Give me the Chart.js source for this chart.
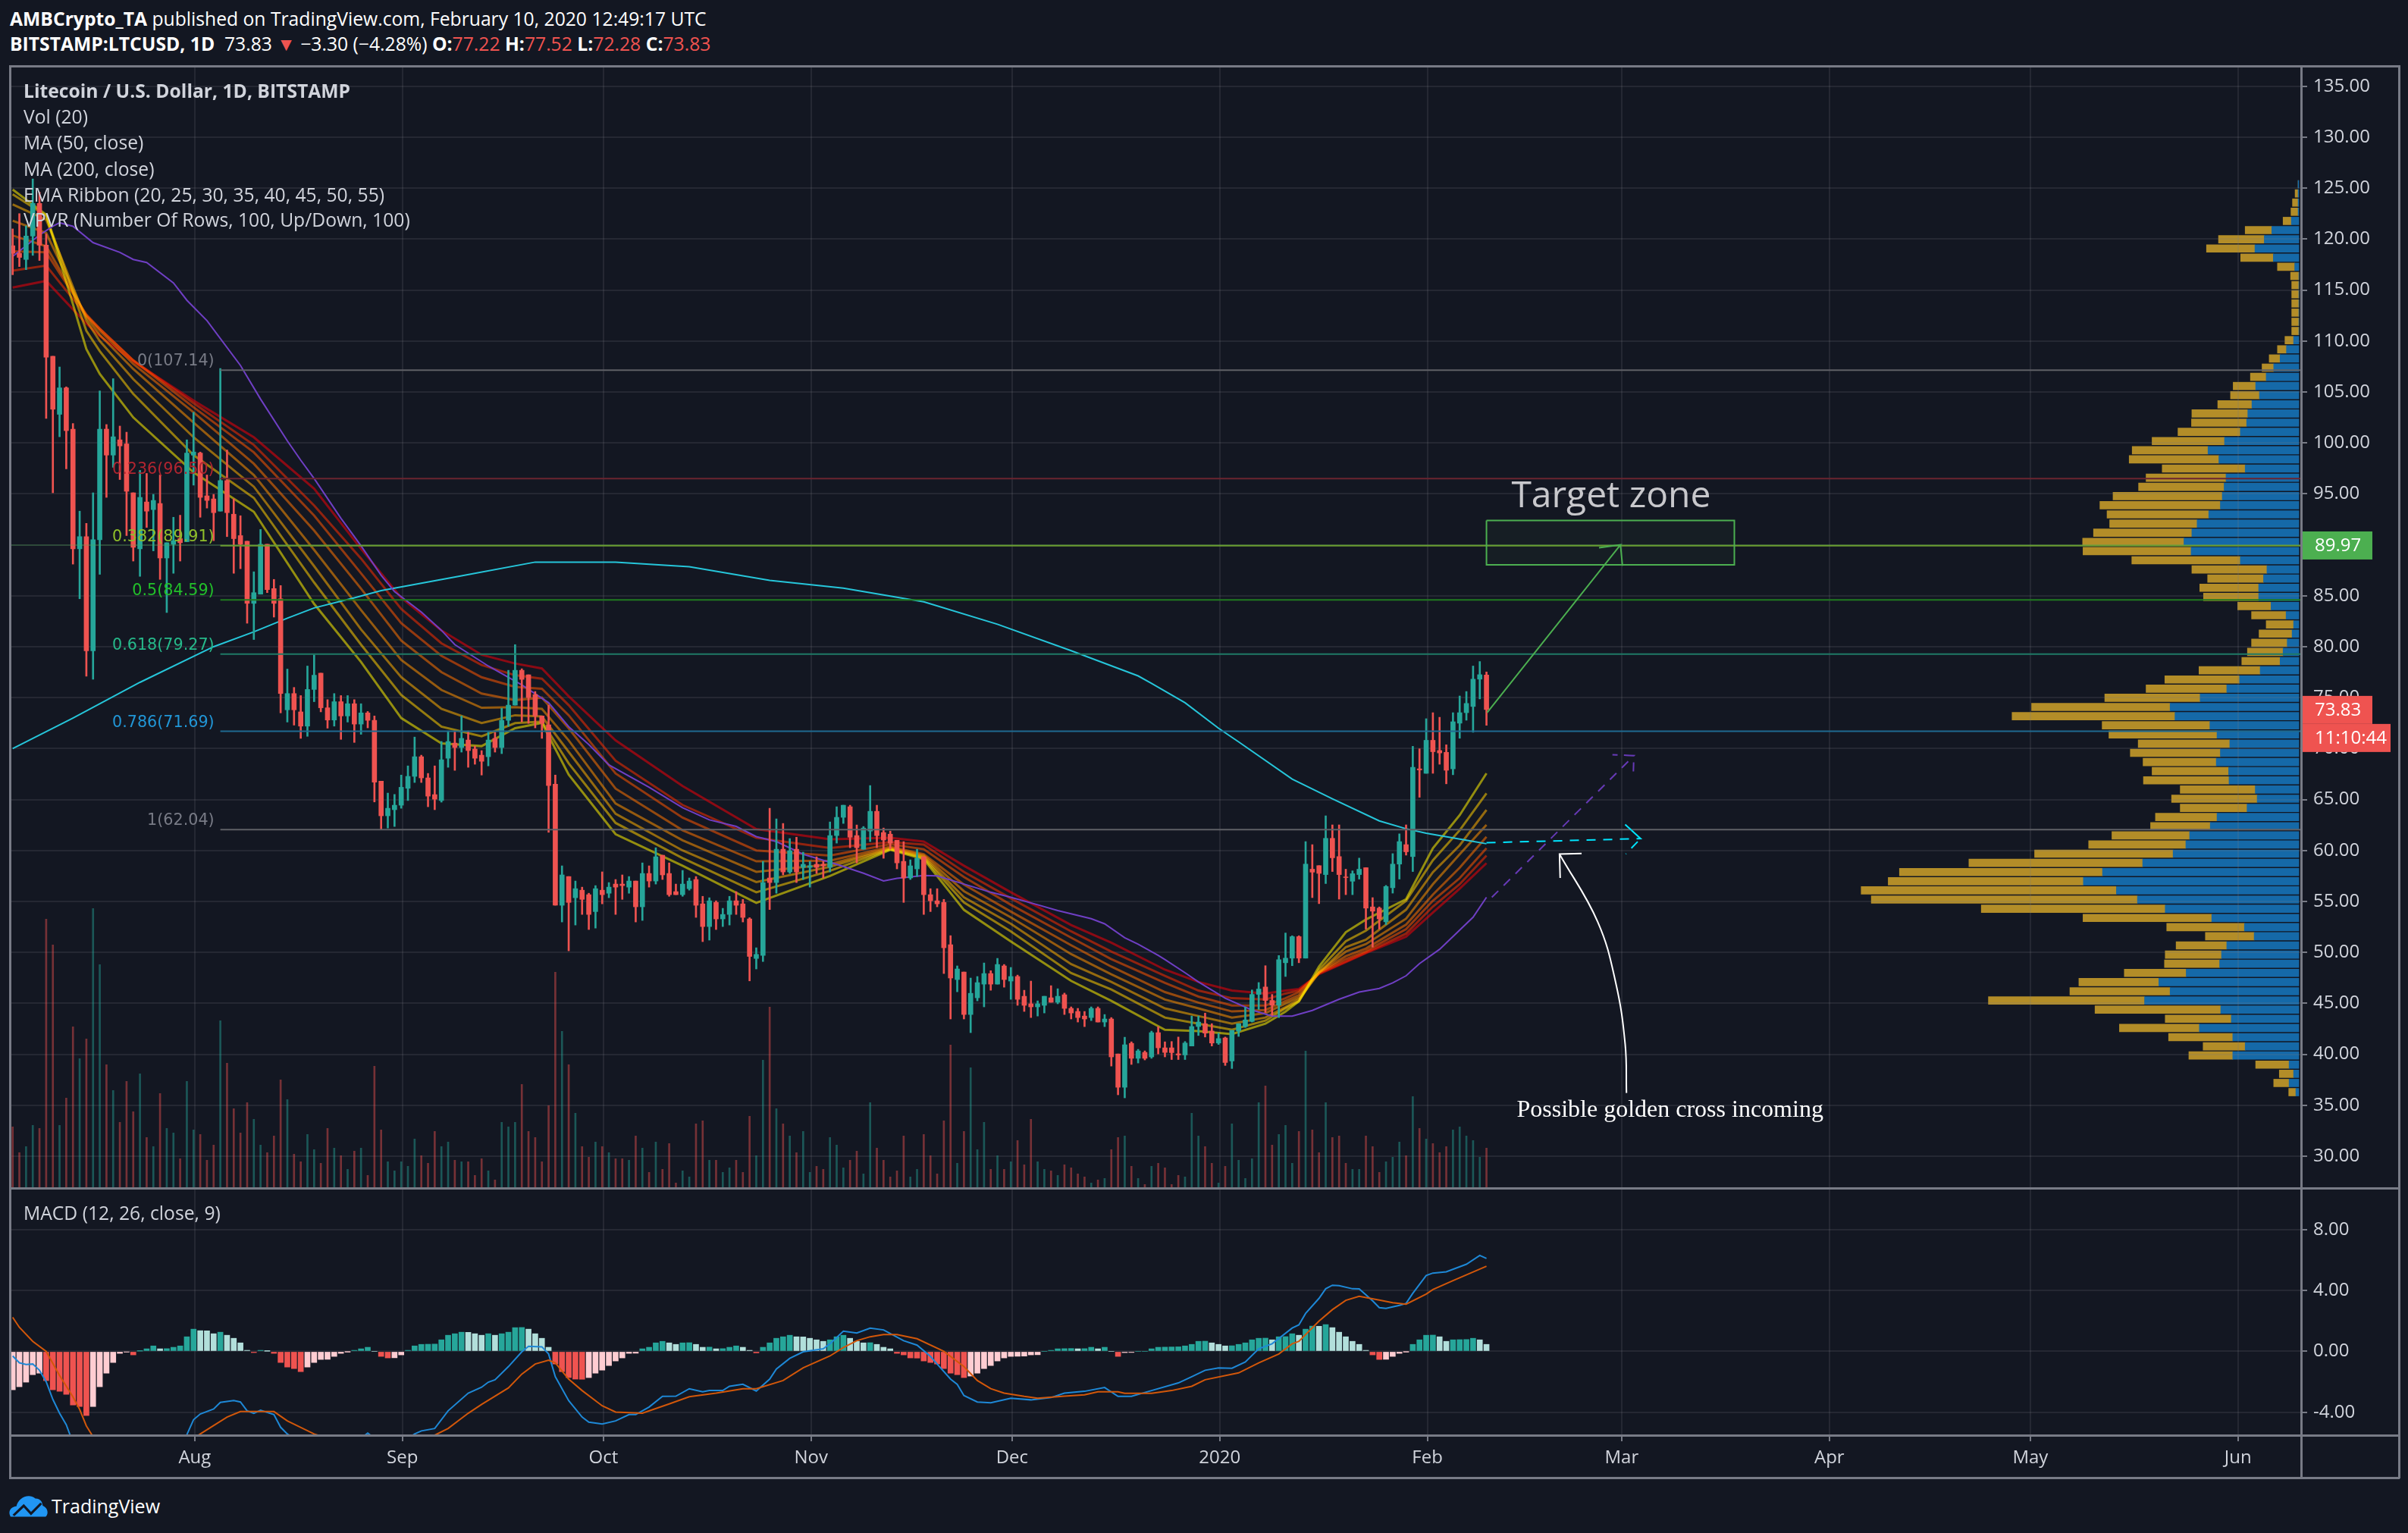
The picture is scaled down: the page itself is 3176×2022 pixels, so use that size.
<!DOCTYPE html>
<html lang="en">
<head>
<meta charset="UTF-8">
<title>LTCUSD chart</title>
<script src="https://cdn.jsdelivr.net/npm/chart.js"></script>
<style>
    html, body { margin: 0; padding: 0; background: #131722; overflow: hidden; }
    body { width: 3176px; height: 2022px; position: relative; font-family: "Open Sans", sans-serif; color: #d1d4dc; }
    canvas { position: absolute; left: 0; }
    .txt { position: absolute; white-space: nowrap; line-height: 34px; font-size: 24.7px; }
    .head { color: #fff; }
    b { font-weight: 700; }
    .red { color: #ef5350; }
    .line { position: absolute; background: #787b86; }
</style>
</head>
<body>
<canvas id="vpvrChart" width="3176" height="1567" style="top:0;z-index:1"></canvas>
<canvas id="priceChart" width="3176" height="1567" style="top:0;z-index:2"></canvas>
<canvas id="macdChart" width="3176" height="455" style="top:1567px;z-index:2"></canvas>

<div class="line" style="left:12px;top:86px;width:3153px;height:3px;z-index:3"></div>
<div class="line" style="left:12px;top:86px;width:3px;height:1864px;z-index:3"></div>
<div class="line" style="left:3034px;top:86px;width:3px;height:1864px;z-index:3"></div>
<div class="line" style="left:3163px;top:86px;width:3px;height:1864px;z-index:3"></div>
<div class="line" style="left:12px;top:1566px;width:3153px;height:3px;z-index:3"></div>
<div class="line" style="left:12px;top:1892px;width:3153px;height:3px;z-index:3"></div>
<div class="line" style="left:12px;top:1948px;width:3153px;height:3px;z-index:3"></div>

<div class="txt head" style="left:13px;top:8px"><b>AMBCrypto_TA</b> published on TradingView.com, February 10, 2020 12:49:17 UTC</div>
<div class="txt head" style="left:13px;top:41px"><b>BITSTAMP:LTCUSD, 1D</b>&nbsp; 73.83 <span class="red">▼</span> −3.30 (−4.28%) <b>O:</b><span class="red">77.22</span> <b>H:</b><span class="red">77.52</span> <b>L:</b><span class="red">72.28</span> <b>C:</b><span class="red">73.83</span></div>

<div class="txt" style="left:31px;top:103px;z-index:4"><b>Litecoin / U.S. Dollar, 1D, BITSTAMP</b></div>
<div class="txt" style="left:31px;top:137px;z-index:4">Vol (20)</div>
<div class="txt" style="left:31px;top:171px;z-index:4">MA (50, close)</div>
<div class="txt" style="left:31px;top:206px;z-index:4">MA (200, close)</div>
<div class="txt" style="left:31px;top:240px;z-index:4">EMA Ribbon (20, 25, 30, 35, 40, 45, 50, 55)</div>
<div class="txt" style="left:31px;top:273px;z-index:4">VPVR (Number Of Rows, 100, Up/Down, 100)</div>
<div class="txt" style="left:31px;top:1583px;z-index:4">MACD (12, 26, close, 9)</div>

<svg style="position:absolute;left:12px;top:1970px" width="52" height="32" viewBox="0 0 54 40" preserveAspectRatio="none">
    <path d="M2 38 C-2 30 2 22 10 21 C12 8 26 -2 36 8 C44 8 46 16 46 20 C54 24 54 34 50 38 Z" fill="#2196f3"/>
    <path d="M6 36 L20 20 L30 33 L44 16" fill="none" stroke="#131722" stroke-width="3.5"/>
</svg>
<div class="txt head" style="left:68px;top:1969px;font-size:25px">TradingView</div>

<script>
// daily candles, index 0 = 5 Jul 2019, index 220 = 10 Feb 2020
const opens = [
    119.35,118.6,118,120.3,123.5,119.4,108.5,102.8,105.4,101.35,
    89.6,90.8,79.6,90.5,101.35,98.8,100.3,99.9,95.1,89.6,
    94.2,93.45,94.05,88.7,90.05,90.6,90.3,98.8,99,94.8,
    94.5,93.3,96.3,93,90.9,90.35,84.25,85.15,90.05,85.7,
    84.7,73.8,75.4,73.6,72.2,75.8,77.4,74,72.8,74.6,
    73.2,74.4,72.4,73.5,72.77,66.8,63.4,64,64.44,66.1,
    67.27,69.2,67.12,65.48,64.9,69.05,70.54,70.1,70.84,69.95,
    69.35,69.2,71,70.1,72.77,74.26,77.68,77.24,75.3,73.2,
    72.33,66.5,54.62,57.44,55.36,56.1,55.66,54,56.1,55.8,
    56.7,56.7,56.4,57,54.47,57.74,57,59.53,57.74,55.96,
    55.66,56.25,57.15,54.76,52.53,54.9,53.28,53.72,55.06,54.76,
    53.28,49.4,49.7,57.3,56.85,60.12,57.89,60.12,58.34,58.34,
    58.64,58.64,58.34,61.46,63.25,64.29,61.46,60.12,61.9,63.84,
    61.76,61.6,61,58.93,57.3,58.19,59.38,55.66,55.06,54.9,
    50.75,47.33,48.07,43.9,45.54,46.88,47.92,46.88,48.67,47.18,
    47.63,45.69,44.95,44.65,44.8,45.54,45.1,45.84,44.5,44.2,
    43.75,43.6,44.5,43.16,43.46,40.03,36.76,41.07,39.6,40.18,
    39.74,42.12,40.63,40.63,40.04,39.93,40.81,42.72,43,42.28,
    41.1,41.6,39.34,42.28,42.72,43.22,45.87,46.6,45.28,44.81,
    48.98,49.43,51.54,49.43,58.16,58.51,57.63,61.19,59.4,57.4,
    56.98,57.63,58.31,54.46,54.34,53,56.34,58.66,60.57,59.4,
    68.01,67.57,70.81,69.81,69.63,68.01,72.49,73.52,74.13,76.81,
    77.22];
const highs = [
    121,122.5,121.3,125.9,124.6,120.5,108.5,107.45,105.5,101.9,
    93.3,92.1,95.1,105.1,101.8,106.3,101.65,101.05,95.1,97.3,
    97,94.95,96.85,90.2,92.7,92.9,100.3,103,99.1,96.85,
    94.95,107.3,99.3,94.5,92.85,90.35,87.35,91.5,90.05,86.6,
    86,77.8,76,75.2,78.1,79.2,77.4,74.8,75.4,75.2,
    75.2,74.8,74.4,73.64,73.2,66.8,65.63,65.5,67.4,68.3,
    71.13,69.35,67.56,68.3,70.7,71.73,71.73,73.2,71.73,70.24,
    69.8,71.6,71.6,73.96,77.68,80.2,77.83,77.24,75.6,73.2,
    74.26,67.4,58.49,57.44,57,56.4,55.8,56.55,57.9,56.85,
    57.15,57.6,57.44,57,58.78,58.49,60.27,59.53,58.78,56.7,
    58.04,57.3,57.44,55.5,55.36,55.06,54.32,55.5,55.96,55.2,
    53.4,50.45,58.93,64.14,63.1,62.65,61.17,61.3,59.83,58.93,
    59.38,58.93,62.8,64.29,64.44,64.44,62.5,62.35,66.37,64.44,
    62.2,61.9,61,60.87,59.08,60.12,59.38,56.25,56.25,55.2,
    51.64,48.67,48.07,47.48,47.63,48.96,48.2,49.41,48.81,48.52,
    47.77,46.28,47.18,45.24,45.69,46.73,46.43,46,44.65,44.5,
    44.2,44.65,44.65,43.9,43.6,40.03,41.67,41.22,40.48,40.33,
    42.27,42.71,41.22,41.25,41.69,41.25,43.75,43.75,44.04,43,
    42.07,41.69,42.34,43,44.63,46.31,47.04,48.69,45.87,49.69,
    51.9,51.63,51.63,60.87,60.57,58.51,63.4,62.51,62.51,58.16,
    58,59.25,58.31,55.37,54.46,56.57,59.69,61.63,62.51,70.22,
    69.98,72.93,73.52,73.07,70.37,73.52,75.16,75.6,78.1,78.54,
    77.52];
const lows = [
    116.5,117.3,117,118.4,117.9,102.4,95.1,100.6,97.45,88.1,
    84.7,77.1,76.8,87.1,94.65,97.6,96.4,90.9,88.4,86.9,
    91.7,89.4,86.6,83.35,87.2,88.4,90.3,95.85,92.7,93.6,
    90.4,93.3,90.8,87.2,87.65,82.3,80.7,85.15,85.3,82.9,
    73.5,72.6,72.3,71,71.2,74.6,73.6,72,72.2,70.9,
    72.6,70.6,71.4,72.03,64.76,62.08,62.2,62.35,64.14,64.9,
    66.67,66.67,64.29,64,64.74,68.16,67.86,69.65,68.16,68.46,
    67.4,68.3,69.65,69.5,72.18,74.26,72.62,72.47,72.03,71,
    61.78,54.62,52.98,50.15,52.68,53.72,52.24,52.38,54.76,55.36,
    53.72,55.2,55.8,52.98,53.13,56.4,56.7,57.15,55.5,55.66,
    55.5,56.1,53.43,51.05,51.2,52.24,52.53,52.68,53.72,52.98,
    47.2,48.37,49.1,54.2,55.8,57.6,57.74,56.85,57.15,56.4,
    57.74,57.3,57.89,60.72,62.65,60.27,58.78,60.12,60.87,60.27,
    59.23,60.12,58.19,54.9,57.15,57.44,53.72,54,54.47,47.92,
    43.46,46.13,43.46,42.12,45.24,44.65,46.28,46.88,46.58,45.39,
    44.8,44.2,43.6,43.75,44.05,45.1,44.95,43.9,43.46,43.16,
    42.71,43.3,43.16,42.71,38.84,36.02,35.72,39,39.14,39.44,
    39.6,40.03,39.74,39.48,39.48,39.48,40.81,41.84,41.69,40.81,
    40.96,38.9,38.6,41.75,42.63,43.16,44.4,44.1,43.81,43.6,
    47.63,48.69,48.98,49.43,55.37,54.78,56.75,57.93,55.22,55.66,
    55.66,57.19,52.28,50.51,52.28,52.72,55.81,57.19,59.54,57.93,
    65.22,67.57,67.57,68.46,66.54,67.43,71.01,72.78,71.6,74.87,
    72.28];
const closes = [
    118.6,118.2,120.3,123.5,119.4,108.4,103.3,105.4,101.2,89.6,
    90.8,79.6,90.5,101.35,98.8,100.6,99.7,95.25,89.75,94.65,
    93.3,94.35,88.7,90.2,90.4,90.2,99,99.1,94.65,94.35,
    93.15,96.3,93.15,90.6,90.05,84.25,85.3,90.05,85.6,84.25,
    75.4,75.4,73.8,72.2,75.8,77.2,74,72.8,74.6,73.2,
    74.4,72.4,73.5,72.77,66.7,63.4,64.14,64.44,66.2,67.27,
    69.2,67.12,65.33,65.03,68.9,70.69,70.1,71,69.8,69.05,
    68.75,70.84,70.1,72.77,74.26,77.68,76.79,75,73.2,72.47,
    66.37,54.62,57.6,54.9,56.25,55.2,53.72,56.25,55.66,56.4,
    56.4,56.55,57,54.47,57.74,57,59.38,57.6,55.66,55.66,
    56.7,57,54.62,52.53,55.06,53.28,53.72,55.06,54.62,53.43,
    49.6,49.8,56.85,56.85,60.12,57.89,59.97,57.89,58.64,58.49,
    58.34,58.49,61.46,63.25,64.44,61.3,60.27,62.2,63.84,61.46,
    61.02,60.72,58.78,57.3,58.49,59.23,55.66,55.06,54.76,50.45,
    47.48,48.37,43.9,45.98,47.03,47.92,46.88,48.81,47.33,47.63,
    45.39,44.8,44.65,44.95,45.69,45.1,45.69,44.5,44.05,43.6,
    43.46,44.5,43.16,43.46,39.74,36.76,40.93,39.6,40.33,39.6,
    42.12,40.63,40.18,40.16,39.93,41.1,42.72,43.16,42.07,41.1,
    41.54,39.19,42.34,43,43.37,45.87,46.4,45.28,44.81,49.28,
    49.43,51.54,49.43,58.66,57.87,57.75,61.19,59.28,57.63,57.34,
    57.72,58.16,54.34,54.04,53.28,56.46,58.66,60.87,59.87,68.16,
    67.9,70.81,69.69,69.57,67.87,72.63,73.52,74.43,76.81,77.25,
    73.83];
const volumes = [
    242,140,164,248,236,1064,962,248,356,638,
    512,590,1106,884,488,386,260,422,302,452,
    200,164,374,236,218,116,422,230,212,110,
    170,662,494,314,218,338,272,170,140,206,
    428,350,134,104,212,152,98,236,158,128,
    74,146,158,50,482,230,104,68,104,86,
    194,128,98,224,164,182,110,104,104,50,
    116,68,32,260,242,260,410,224,200,104,
    326,854,620,488,296,164,122,182,164,140,
    116,116,110,206,158,62,182,74,176,20,
    68,44,254,266,110,110,62,80,110,62,
    284,128,506,716,314,254,206,140,224,62,
    86,74,200,170,80,110,146,56,338,158,
    110,44,68,206,44,74,212,128,56,266,
    566,98,224,476,152,260,74,128,74,104,
    188,92,272,104,74,68,50,92,80,56,
    44,20,32,38,152,200,206,86,38,14,
    86,98,80,14,50,44,296,206,164,98,
    20,86,254,110,38,116,338,404,170,212,
    248,98,224,542,230,140,338,200,206,98,
    74,74,206,164,62,104,122,182,128,362,
    236,194,176,140,164,230,242,206,188,122,158];

// ribbon values read at these candle indexes
const ribbonDays = [0,5,11,13,18,27,36,45,52,58,64,70,75,79,83,90,100,111,122,131,136,142,149,158,164,172,177,182,187,190,192,195,199,202,208,212,216,220];
const ema20 = [124.86,122.4,109.2,106.76,102.5,97.1,93.24,84.2,78.5,73,70.5,70.24,72,72.52,67.44,61.6,58.5,54.86,57.5,60.07,59.13,54.17,51.07,47.2,45.24,42.4,42.28,41.98,43,44.19,45.2,48.6,51.98,53.22,55.22,60.22,63.46,67.57];
const ema25 = [124.4,122.3,111,109,104.8,98.8,94.6,86.3,80.2,75.25,72.15,71.2,72.5,72.65,68.55,62.7,59.25,55.9,58,60.12,59.26,54.9,52.06,47.97,46.36,43.6,43,42.4,43.3,44.5,45.2,48.3,51.1,52.13,55.06,59.04,61.98,65.6];
const ema30 = [123.4,121.9,112,110,106.26,100.55,95.7,87.9,81.7,77,73.9,72.5,73.27,73.15,69.67,63.6,60,56.9,58.4,60.17,59.38,55.4,52.8,48.84,47.1,44.5,43.75,43,43.6,44.63,45.37,48,50.51,51.25,54.19,57.87,60.5,63.98];
const ema35 = [121.8,120.6,112.3,110.6,107.25,102,96.84,89.5,83.6,78.7,75.75,74,74.06,73.9,70.8,64.6,61,57.9,58.64,60.25,59.5,56,53.43,49.83,47.85,45.37,44.5,43.6,44.04,44.98,45.57,48.05,50.07,50.81,53.31,56.69,59.63,62.51];
const ema40 = [120.35,119.3,112.5,111,107.75,103,97.95,91.4,85.7,80.6,77.5,75.4,74.76,75,72,66.07,61.98,58.93,59,60.37,59.63,56.65,54,50.7,48.6,46.1,45.07,44.2,44.34,45.22,45.8,48,49.63,50.37,52.72,55.66,58.31,61.34];
const ema45 = [118.8,118.7,112.6,111.2,108.1,103.5,99.07,92.87,87.2,82.3,79.1,77,76.05,75.87,73.27,67.56,63.22,60,59.5,60.62,60.12,57.4,54.67,51.44,49.33,47,45.66,44.78,44.78,45.5,46.1,48,49.34,50.13,52.28,55.07,57.28,60.22];
const ema50 = [116.9,117.4,112.5,111.2,108.1,103.9,99.8,93.86,88.65,83.7,80.33,78.2,77.2,76.86,74.26,68.8,64.46,61.24,60.25,60.82,60.57,57.9,55.3,52.06,50.08,47.7,46.25,45.5,45.37,45.96,46.25,47.93,49.1,49.98,51.84,54.49,56.69,59.49];
const ema55 = [115.25,115.9,111.7,110.5,108,104.15,100.55,95.5,89.6,84.8,81.6,79.2,78.35,77.86,75.13,70.8,66.32,62.1,61.1,61.24,60.87,58.5,55.9,52.68,50.95,48.3,47.1,46.25,45.96,46.25,46.4,47.87,49.04,49.93,51.54,53.9,56.25,58.75];

const ma50Days = [0,4,6,7,9,12,16,18,20,24,26,29,34,37,41,43,45,49,52,55,57,61,64,66,71,76,80,83,86,89,95,100,104,108,111,114,118,123,127,130,132,136,138,141,146,149,153,156,161,163,166,168,171,172,175,177,181,185,188,191,194,198,201,204,206,208,210,213,218,220];
const ma50 = [118.3,120.4,121.26,121.6,121.26,119.65,118.7,118,117.7,115.7,114,112,107.6,104.3,100.2,98.3,96.5,92.6,89.9,87,85.4,83.4,81.6,80.2,78.1,76.24,74.5,72.15,70.4,68.4,66.2,64.2,63,62.36,61.36,60.87,59.63,58.64,57.77,57,57.27,57.54,57.5,56.9,55.9,55.4,54.67,54.1,53.3,52.8,51.44,50.8,49.7,49.3,48,47.1,45.5,44.34,43.75,43.75,44.3,45.4,46.1,46.46,47,47.7,48.9,50.3,53.45,55.4];
const ma200Days = [0,9,19,30,36,41,45,51,55,67,78,90,101,113,124,136,147,158,168,170,175,180,183,191,197,204,208,211,217,220];
const ma200 = [70,73,76.5,80,81.46,82.8,83.8,84.8,85.5,86.95,88.3,88.3,87.85,86.5,85.74,84.4,82.2,79.6,77.13,76.4,74.5,72,70.66,67,65.07,62.9,62.13,61.69,61,60.66];

// MACD pane
const macdHist = [
    -2.52,-2.32,-2.02,-1.53,-1.43,-1.92,-2.52,-2.62,-2.82,-3.52,
    -3.62,-4.21,-3.62,-2.32,-1.43,-.73,-.13,-.03,-.23,.02,
    .17,.36,.17,.18,.27,.36,.96,1.46,1.36,1.35,
    1.16,1.26,1.06,.86,.56,.07,-.08,.07,.01,-.13,
    -.73,-1.03,-1.13,-1.33,-1.03,-.73,-.53,-.52,-.33,-.13,
    -.01,.07,.17,.27,0,-.33,-.43,-.42,-.23,.07,
    .36,.46,.47,.48,.76,1.06,1.16,1.26,1.25,1.16,
    1.06,1.16,1.06,1.16,1.26,1.56,1.57,1.46,1.16,.86,
    .27,-.83,-1.33,-1.72,-1.82,-1.83,-1.72,-1.43,-1.23,-.93,
    -.63,-.43,-.13,-.12,.17,.27,.56,.66,.56,.46,
    .56,.57,.46,.27,.28,.17,.18,.27,.36,.27,
    .07,-.10,.27,.56,.86,.96,1.06,.96,.95,.86,
    .76,.66,.76,.96,1.06,.86,.66,.56,.57,.46,
    .27,.17,-.13,-.23,-.43,-.44,-.63,-.73,-.83,-1.13,
    -1.43,-1.53,-1.72,-1.62,-1.43,-1.13,-.93,-.63,-.43,-.33,
    -.32,-.31,-.23,-.22,0,.07,.17,.18,.19,.17,
    .18,.27,.17,.27,0,-.33,-.08,-.07,0,0,
    .17,.27,.28,.29,.30,.36,.46,.66,.67,.56,
    .46,.36,.37,.46,.56,.76,.86,.87,.76,.96,
    .97,1.16,1.06,1.46,1.66,1.65,1.76,1.56,1.26,.96,
    .66,.46,.07,-.23,-.53,-.52,-.33,-.13,-.01,.46,
    .76,1.06,1.07,.96,.66,.76,.77,.78,.86,.76,
    .46];
const macdLine = [[0,-.3],[1,-.75],[2,-.86],[3,-.83],[4,-1.24],[5,-1.99],[6,-3.15],[7,-4.06],[8,-4.81],[9,-6],[13,-7],[20,-7],[25,-6.2],[26,-5.47],[27,-4.48],[28,-4.11],[30,-3.78],[31,-3.35],[33,-3.23],[34,-3.32],[35,-3.9],[36,-4.06],[37,-3.86],[39,-4.15],[40,-4.98],[41,-5.42],[43,-6],[50,-6.5],[52,-5.7],[53,-5.36],[54,-5.7],[58,-6],[60,-5.42],[61,-5.22],[63,-5.06],[65,-3.9],[68,-2.74],[70,-2.35],[71,-2.02],[72,-1.86],[74,-1],[76,-.03],[77,.33],[79,.3],[80,-.17],[81,-1.66],[83,-3.23],[85,-4.31],[86,-4.64],[88,-4.76],[90,-4.56],[92,-4.15],[93,-4.15],[95,-3.65],[97,-2.95],[99,-2.94],[101,-2.45],[103,-2.65],[104,-2.57],[106,-2.57],[107,-2.29],[109,-2.16],[111,-2.6],[113,-1.82],[114,-1.16],[116,-.46],[118,-.03],[121,.17],[122,.5],[124,1.33],[126,1.21],[128,1.53],[130,1.41],[133,.7],[135,.41],[137,-.33],[138,-.83],[140,-1.82],[141,-2.16],[142,-2.9],[144,-3.32],[146,-3.37],[149,-3.07],[152,-3.18],[155,-3.03],[157,-2.74],[160,-2.62],[163,-2.37],[165,-2.95],[167,-2.95],[170,-2.57],[174,-2.07],[176,-1.66],[178,-1.24],[180,-1.08],[182,-1.11],[184,-.7],[186,.17],[188,.5],[191,1.53],[192,1.74],[193,2.49],[195,3.48],[196,4.11],[197,4.34],[198,4.31],[200,4.11],[201,4.1],[203,3.32],[204,2.87],[205,2.82],[207,3.02],[208,3.15],[209,3.81],[211,4.98],[212,5.14],[214,5.22],[217,5.72],[219,6.3],[220,6.1]];
const signalLine = [[0,2.24],[1,1.58],[3,.66],[5,0],[7,-1.58],[9,-2.99],[10,-3.81],[11,-4.89],[12,-5.6],[15,-6.5],[25,-6.3],[28,-5.42],[32,-4.31],[34,-3.95],[39,-3.95],[41,-4.56],[45,-5.42],[50,-6.1],[60,-6],[63,-5.5],[65,-5.06],[68,-4.06],[70,-3.48],[74,-2.4],[76,-1.49],[78,-.83],[80,-.58],[81,-.75],[83,-1.82],[85,-2.57],[88,-3.57],[90,-3.98],[94,-4.06],[98,-3.45],[101,-2.98],[105,-2.74],[109,-2.45],[111,-2.45],[115,-1.91],[118,-1.08],[122,-.3],[124,.25],[126,.7],[128,.96],[130,1.11],[132,1.11],[135,.83],[139,0],[142,-1],[144,-1.91],[146,-2.45],[148,-2.74],[151,-2.95],[153,-3.07],[157,-2.94],[160,-2.85],[162,-2.65],[165,-2.65],[166,-2.75],[170,-2.75],[173,-2.57],[176,-2.29],[178,-1.86],[183,-1.41],[186,-.75],[189,-.17],[191,.5],[192,.66],[195,1.99],[197,2.74],[199,3.35],[201,3.62],[204,3.37],[206,3.2],[208,3.1],[211,3.76],[212,4.06],[215,4.64],[220,5.59]];

// volume profile, top row first
const vpTopPrice = 125.38;
const vpRowStep = 0.9;
const vpUp = [2,2,2,2,20,72,92,117,68,11,0,0,0,0,0,0,0,14,33,50,67,87,115,105,125,136,139,156,198,242,213,143,194,199,204,209,240,271,285,306,287,156,85,94,107,107,74,34,
    14,18,31,42,50,103,158,192,263,343,330,237,218,184,209,220,187,186,116,111,138,218,236,291,301,335,416,523,574,486,430,356,232,145,119,192,206,211,300,373,343,411,208,180,265,176,143,176,26,14,26,8];
const vpDown = [0,8,15,19,22,71,122,129,87,46,22,19,19,19,19,19,19,23,24,29,31,42,60,77,91,149,147,166,193,202,239,221,213,228,291,321,271,233,262,270,288,289,200,149,157,147,89,92,
    73,88,95,95,102,163,199,215,254,369,434,287,288,244,240,195,204,228,200,228,178,164,159,207,259,369,463,541,520,680,709,490,343,207,130,135,150,147,165,213,267,416,335,176,213,171,112,117,89,38,41,19];

// axes
const priceTicks = [135,130,125,120,115,110,105,100,95,90,85,80,75,70,65,60,55,50,45,40,35,30];
const macdTicks = [8,4,0,-4];
const monthDays = [27.18,58.18,88.18,119.18,149.18,180.18,211.18,240.18,271.18,301.18,332.18];
const monthLabels = ['Aug','Sep','Oct','Nov','Dec','2020','Feb','Mar','Apr','May','Jun'];

// fibonacci retracement
const fibStartDay = 31;
const fibLabels = ['0(107.14)','0.236(96.50)','0.382(89.91)','0.5(84.59)','0.618(79.27)','0.786(71.69)','1(62.04)'];
const fibPrices = [107.14,96.5,89.91,84.59,79.27,71.69,62.04];

// hand drawn things on the chart, [candle index, price]
const targetBox = [[220,92.38],[257,92.38],[257,88.03],[220,88.03],[220,92.38]];
const targetArrow = [[220.1,73.53],[240,90],[236.8,89.7],[240,90],[240.3,87.94]];
const ma200Arrow = [[220,60.76],[243,61.16],[240.7,62.55],[243,61.16],[240.8,59.65]];
const ma50Arrow = [[220.8,55.4],[242,69.3],[238.8,69.4],[242,69.3],[241.9,67.2]];
const crossArrow = [[240.9,36.2],[240.7,41],[239.3,47],[236.6,53],[230.9,59.65]];
const crossArrowHead = [[234.2,59.7],[230.9,59.65],[231,57.3]];

const GREEN = '#26a69a', RED = '#ef5350';
const GRID = 'rgba(120,123,134,0.18)', AXIS = '#787b86', LABEL = '#d1d4dc';
const AXIS_FONT = { family: '"Open Sans", sans-serif', size: 24 };
const X_MIN = -0.42, X_MAX = 341.6;
const PRICE_MIN = 26.87, PRICE_MAX = 136.99;

function zipLine(xs, ys) { return xs.map((x, i) => ({ x: x, y: ys[i] })); }
function pairLine(points) { return points.map(p => ({ x: p[0], y: p[1] })); }
function fibStart(p) { return [{ x: fibStartDay, y: p }, { x: X_MAX, y: p }]; }
function lineSet(data, color, width, order, extra) {
    return Object.assign({
        type: 'line', data: data, borderColor: color, borderWidth: width,
        pointRadius: 0, tension: 0, fill: false, order: order, yAxisID: 'y'
    }, extra || {});
}
function xScale(showLabels) {
    return {
        type: 'linear', min: X_MIN, max: X_MAX, offset: false,
        afterBuildTicks: s => { s.ticks = monthDays.map(v => ({ value: v })); },
        afterFit: s => { if (showLabels) s.height = 129; s.paddingLeft = 0; s.paddingRight = 0; },
        border: { display: false },
        grid: { color: GRID, lineWidth: 2, offset: false, drawTicks: showLabels, tickLength: 8, tickColor: AXIS, tickWidth: 2 },
        ticks: {
            display: showLabels, autoSkip: false, maxRotation: 0, color: LABEL, font: AXIS_FONT, padding: 8,
            callback: v => monthLabels[monthDays.indexOf(v)]
        }
    };
}
function yScale(ticks, min, max) {
    return {
        position: 'right', min: min, max: max,
        afterBuildTicks: s => { s.ticks = ticks.map(v => ({ value: v })); },
        // labels near the pane edge must not shrink the pane
        afterFit: s => { s.width = 141; s.paddingTop = 0; s.paddingBottom = 0; },
        border: { display: false },
        grid: { color: GRID, lineWidth: 2, tickLength: 8, tickColor: AXIS, tickWidth: 2 },
        ticks: { color: LABEL, font: AXIS_FONT, padding: 8, callback: v => v.toFixed(2) }
    };
}

const candleColors = closes.map((c, i) => c >= opens[i] ? GREEN : RED);

// text and price tags that sit on the price pane
const priceLabels = {
    id: 'priceLabels',
    afterDraw(chart) {
        const { ctx, scales: { x, y } } = chart;
        ctx.save();
        ctx.textBaseline = 'bottom';
        ctx.textAlign = 'right';
        ctx.font = '20.7px "DejaVu Sans"';
        const fibColors = ['#787b86', '#b02530', '#8fbf2a', '#22c02a', '#26b98a', '#2196d6', '#787b86'];
        fibLabels.forEach((t, i) => {
            ctx.fillStyle = fibColors[i];
            ctx.fillText(t, x.getPixelForValue(fibStartDay) - 8, y.getPixelForValue(fibPrices[i]) - 1);
        });

        ctx.textAlign = 'center';
        ctx.textBaseline = 'alphabetic';
        ctx.fillStyle = '#c8c8cc';
        ctx.font = '48px "Open Sans"';
        ctx.fillText('Target zone', x.getPixelForValue(238.6), y.getPixelForValue(93.65));
        ctx.fillStyle = '#ffffff';
        ctx.font = '32px "Liberation Serif"';
        ctx.fillText('Possible golden cross incoming', x.getPixelForValue(247.4), y.getPixelForValue(33.9));

        // price tags over the axis
        const tag = (text, price, color, w, shift) => {
            const py = y.getPixelForValue(price) + shift;
            ctx.fillStyle = color;
            ctx.fillRect(3036, py - 18, w, 37);
            ctx.fillStyle = '#ffffff';
            ctx.font = '24px "Open Sans"';
            ctx.textAlign = 'left';
            ctx.textBaseline = 'middle';
            ctx.fillText(text, 3053, py + 1);
        };
        tag('89.97', 89.97, '#4caf50', 93, 0);
        tag('73.83', 73.83, RED, 93, 0);
        tag('11:10:44', 73.83, RED, 117, 37);
        ctx.restore();
    }
};

Chart.defaults.animation = false;
Chart.defaults.plugins.legend.display = false;
Chart.defaults.plugins.tooltip.enabled = false;

// volume profile under the price pane, grows left from the axis
const vpRows = vpUp.map((_, i) => vpTopPrice - i * vpRowStep);
new Chart(document.getElementById('vpvrChart'), {
    type: 'bar',
    data: {
        datasets: [
            { data: vpUp.map((u, i) => ({ y: vpRows[i], x: [0, u] })), backgroundColor: '#1569a8', barThickness: 10, grouped: false },
            { data: vpDown.map((d, i) => ({ y: vpRows[i], x: [vpUp[i], vpUp[i] + d] })), backgroundColor: '#b38d28', barThickness: 10, grouped: false }
        ]
    },
    options: {
        indexAxis: 'y', responsive: false, devicePixelRatio: 1,
        layout: { autoPadding: false, padding: { left: 13, right: 141, top: 87, bottom: 0 } },
        scales: {
            x: { type: 'linear', reverse: true, min: -6, max: 6098, display: false },
            y: { type: 'linear', min: PRICE_MIN, max: PRICE_MAX, display: false, offset: false }
        }
    }
});

// see-through yellow to red, so the lines go bright where they bunch up
const ribbonColors = ['rgba(255,240,0,0.55)', 'rgba(255,205,0,0.55)', 'rgba(255,175,0,0.55)', 'rgba(255,145,0,0.55)', 'rgba(255,115,0,0.55)', 'rgba(255,85,0,0.55)', 'rgba(250,45,0,0.55)', 'rgba(240,0,10,0.55)'];
const ribbons = [ema20, ema25, ema30, ema35, ema40, ema45, ema50, ema55];

new Chart(document.getElementById('priceChart'), {
    type: 'bar',
    data: {
        datasets: [
            {
                data: volumes.map((v, i) => ({ x: i, y: v })), yAxisID: 'vol', order: 60,
                backgroundColor: candleColors.map(c => c === GREEN ? 'rgba(38,166,154,0.45)' : 'rgba(239,83,80,0.45)'),
                barThickness: 2, grouped: false
            },
            ...ribbons.map((r, i) => lineSet(zipLine(ribbonDays, r), ribbonColors[i], 3, 30 + i)),
            lineSet(zipLine(ma50Days, ma50), '#6f3fc4', 2, 20),
            lineSet(zipLine(ma200Days, ma200), '#26c6da', 2, 20),
            {
                data: lows.map((l, i) => ({ x: i, y: [l, highs[i]] })), backgroundColor: candleColors,
                barThickness: 2, grouped: false, order: 10
            },
            {
                data: opens.map((o, i) => ({ x: i, y: [Math.min(o, closes[i]), Math.max(o, closes[i])] })), backgroundColor: candleColors,
                barThickness: 6, grouped: false, order: 9
            },
            lineSet([{ x: X_MIN, y: 89.97 }, { x: X_MAX, y: 89.97 }], 'rgba(76,175,80,0.25)', 2, 8),
            lineSet(fibStart(107.14), '#5f6066', 2, 5),
            lineSet(fibStart(96.5), '#6b2530', 2, 5),
            lineSet(fibStart(89.91), '#6a9c30', 2, 5),
            lineSet(fibStart(84.59), '#207a20', 2, 5),
            lineSet(fibStart(79.27), '#1f7a66', 2, 5),
            lineSet(fibStart(71.69), '#1f6a90', 2, 5),
            lineSet(fibStart(62.04), '#5f6066', 2, 5),
            lineSet(pairLine(targetBox), '#4caf50', 2, 3, { fill: 'shape', backgroundColor: 'rgba(76,175,80,0.05)' }),
            lineSet(pairLine(targetArrow), '#4caf50', 2, 2),
            lineSet(pairLine(ma200Arrow), '#00e5ff', 2, 2, { borderDash: [12, 10] }),
            lineSet(pairLine(ma50Arrow), '#673ab7', 2, 2, { borderDash: [12, 10] }),
            lineSet(pairLine(crossArrow), '#ffffff', 2, 2, { tension: 0.4 }),
            lineSet(pairLine(crossArrowHead), '#ffffff', 2, 2)
        ]
    },
    options: {
        responsive: false, devicePixelRatio: 1,
        layout: { autoPadding: false, padding: { left: 13, right: 0, top: 87, bottom: 0 } },
        scales: {
            x: xScale(false),
            y: yScale(priceTicks, PRICE_MIN, PRICE_MAX),
            vol: { min: 0, max: 4440, display: false }
        }
    },
    plugins: [priceLabels]
});

// TradingView shades: strong while the bar grows, pale while it shrinks
const histColors = macdHist.map((h, i) => {
    const prev = i ? macdHist[i - 1] : h;
    if (h >= 0) return h >= prev ? GREEN : '#b2dfdb';
    return h <= prev && i ? RED : '#ffcdd2';
});

new Chart(document.getElementById('macdChart'), {
    type: 'bar',
    data: {
        datasets: [
            {
                data: macdHist.map((h, i) => ({ x: i, y: h })), backgroundColor: histColors,
                barThickness: 7, grouped: false, order: 5
            },
            lineSet(pairLine(macdLine), '#1e88d6', 2, 2),
            lineSet(pairLine(signalLine), '#d2570a', 2, 1)
        ]
    },
    options: {
        responsive: false, devicePixelRatio: 1,
        layout: { autoPadding: false, padding: { left: 13, right: 0, top: 0, bottom: 0 } },
        scales: {
            x: xScale(true),
            y: yScale(macdTicks, -5.5, 10.72)
        }
    }
});
</script>
</body>
</html>
